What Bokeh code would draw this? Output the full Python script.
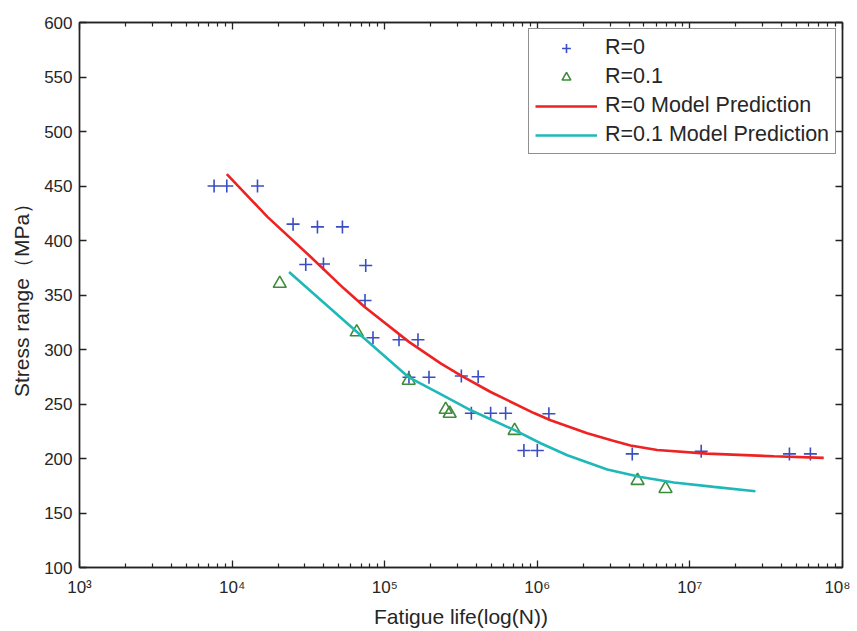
from bokeh.plotting import figure
from bokeh.models import LogAxis, LinearAxis, FixedTicker, Legend, LegendItem
from bokeh.embed import file_html
from bokeh.resources import INLINE

# ---- data ----
x_ticks = [1e3, 1e4, 1e5, 1e6, 1e7, 1e8]
x_tick_labels = ["10³", "10⁴", "10⁵", "10⁶", "10⁷", "10⁸"]
x_minor = [m * 10 ** d for d in range(3, 8) for m in range(2, 10)]
y_ticks = [100, 150, 200, 250, 300, 350, 400, 450, 500, 550, 600]

r0_N = [7620, 9230, 14670, 25090, 36250, 52840, 30380, 39690, 75100, 74300,
        83800, 124100, 165200, 144200, 195100, 317900, 409700, 369700, 494600,
        620000, 1191000, 817000, 1000000, 4190000, 11860000, 44900000, 61600000]
r0_S = [450, 450, 450, 415, 412.5, 412.5, 378, 378.5, 377, 345,
        310.8, 309, 309, 274.6, 274.6, 275.7, 275, 241.5, 241.5,
        241.5, 241, 207.3, 207.3, 204.2, 206.6, 204.2, 204.2]

r01_N = [20530, 65560, 143600, 250900, 266600, 710000, 4540000, 6920000]
r01_S = [360.5, 316, 271.6, 244.9, 241.3, 225.6, 179.7, 172.3]

model0_N = [9232, 17050, 32770, 54130, 73960, 144200, 232600, 314600, 494600,
            950000, 1222000, 2125000, 3100000, 4083000, 6108000, 12980000,
            35440000, 75320000]
model0_S = [460.9, 421.7, 384.9, 355.9, 339, 307, 287.3, 276.2, 261,
            241.7, 235.1, 223.1, 216.5, 212, 207.8, 204.5, 202, 200.6]

model01_N = [23620, 65560, 144200, 232600, 369700, 710000, 1051000, 1573000,
             2873000, 4748000, 7845000, 14340000, 26890000]
model01_S = [371.1, 316.2, 274.4, 259, 244, 226, 214, 203,
             190, 183, 178, 174, 170]

FONT = "Liberation Sans"
TXT = "#262626"

p = figure(width=850, height=630, x_axis_type="log",
           x_range=(1e3, 1e8), y_range=(100, 600),
           output_backend="svg", toolbar_location=None,
           min_border_left=79, min_border_right=8,
           min_border_top=22, min_border_bottom=63)
p.background_fill_color = "white"
p.border_fill_color = "white"
p.xgrid.visible = False
p.ygrid.visible = False
p.outline_line_color = "#222222"
p.outline_line_width = 1.3

xt = FixedTicker(ticks=x_ticks, minor_ticks=x_minor)
yt = FixedTicker(ticks=y_ticks)


def style(ax):
    ax.axis_line_color = "#222222"
    ax.axis_line_width = 1.5
    ax.major_tick_line_color = "#222222"
    ax.major_tick_line_width = 1.3
    ax.major_tick_in = 7
    ax.major_tick_out = 0
    ax.minor_tick_line_color = "#222222"
    ax.minor_tick_line_width = 1.2
    ax.minor_tick_in = 4
    ax.minor_tick_out = 0
    ax.major_label_text_font = FONT
    ax.major_label_text_font_size = "17px"
    ax.major_label_text_color = TXT
    ax.axis_label_text_font = FONT
    ax.axis_label_text_font_size = "21px"
    ax.axis_label_text_font_style = "normal"
    ax.axis_label_text_color = TXT


xa = p.xaxis[0]
xa.ticker = xt
xa.major_label_overrides = {t: l for t, l in zip(x_ticks, x_tick_labels)}
style(xa)
xa.major_label_standoff = 10
xa.axis_label = "Fatigue life(log(N))"
xa.axis_label_standoff = 5

ya = p.yaxis[0]
ya.ticker = yt
style(ya)
ya.minor_tick_line_color = None
ya.major_label_standoff = 7
ya.axis_label = "Stress range（MPa）"
ya.axis_label_standoff = 8

top = LogAxis(ticker=xt, major_label_overrides={t: "" for t in x_ticks})
style(top)
top.major_label_standoff = 0
p.add_layout(top, "above")

right = LinearAxis(ticker=yt, major_label_overrides={t: "" for t in y_ticks})
style(right)
right.minor_tick_line_color = None
right.major_label_standoff = 0
p.add_layout(right, "right")

BLUE = "#3a4dc4"
GREEN = "#3c8c3c"
RED = "#ee2222"
CYAN = "#1fb8b8"

s0 = p.scatter(r0_N, r0_S, marker="cross", size=13, line_color=BLUE, line_width=1.6)
s1 = p.scatter(r01_N, r01_S, marker="triangle", size=13, fill_color=None,
               line_color=GREEN, line_width=1.6)
l0 = p.line(model0_N, model0_S, line_color=RED, line_width=2.6)
l1 = p.line(model01_N, model01_S, line_color=CYAN, line_width=2.6)

legend = Legend(items=[
    LegendItem(label="R=0", renderers=[s0]),
    LegendItem(label="R=0.1", renderers=[s1]),
    LegendItem(label="R=0 Model Prediction", renderers=[l0]),
    LegendItem(label="R=0.1 Model Prediction", renderers=[l1]),
], location=(449, 413))
legend.padding = 6
legend.spacing = 4
legend.glyph_width = 62
legend.glyph_height = 22
legend.label_standoff = 8
legend.label_text_font = FONT
legend.label_text_font_size = "21.5px"
legend.label_text_color = TXT
legend.border_line_color = "#222222"
legend.border_line_width = 1.3
legend.background_fill_color = "white"
legend.background_fill_alpha = 1.0
p.add_layout(legend)

open("out.html", "w").write(file_html(p, INLINE))
